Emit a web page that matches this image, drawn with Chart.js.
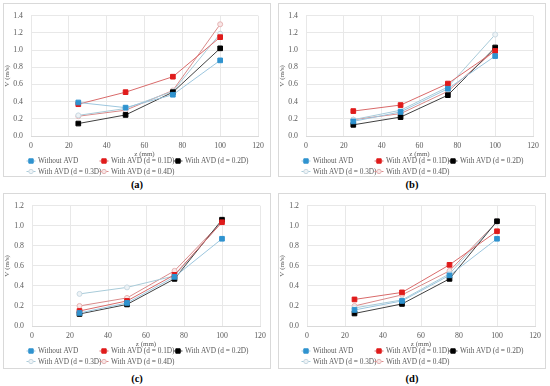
<!DOCTYPE html>
<html>
<head>
<meta charset="utf-8">
<script src="https://cdn.jsdelivr.net/npm/chart.js@4.4.1/dist/chart.umd.min.js"></script>
<style>
    body { margin: 0; width: 550px; height: 386px; background: #fff; position: relative; overflow: hidden; }
    .panel { position: absolute; border: 1px solid #d9d9d9; box-sizing: border-box; }
    .panel canvas { position: absolute; left: -1px; top: -1px; }
    .cap { position: absolute; width: 268px; text-align: center; font: bold 10.5px "Liberation Serif", serif; line-height: 12px; color: #000; }
</style>
</head>
<body>
<div class="panel" style="left:3px;top:3px;width:268px;height:174px"><canvas id="chartA" width="268" height="174"></canvas></div>
<div class="panel" style="left:278px;top:3px;width:268px;height:174px"><canvas id="chartB" width="268" height="174"></canvas></div>
<div class="panel" style="left:3px;top:193px;width:268px;height:176px"><canvas id="chartC" width="268" height="176"></canvas></div>
<div class="panel" style="left:278px;top:193px;width:268px;height:176px"><canvas id="chartD" width="268" height="176"></canvas></div>
<div class="cap" style="left:3px;top:179px">(a)</div>
<div class="cap" style="left:278px;top:179px">(b)</div>
<div class="cap" style="left:3px;top:373px">(c)</div>
<div class="cap" style="left:278px;top:373px">(d)</div>

<script>
// z positions (mm) and series names
const zPositions = [25, 50, 75, 100];
const seriesNames = ["Without AVD", "With AVD (d = 0.1D)", "With AVD (d = 0.2D)", "With AVD (d = 0.3D)", "With AVD (d = 0.4D)"];

// V (m/s) for each panel, rows in seriesNames order
const valuesA = [
    [0.39, 0.33, 0.48, 0.88],
    [0.37, 0.51, 0.69, 1.15],
    [0.145, 0.245, 0.51, 1.02],
    [0.24, 0.32, 0.52, 1.19],
    [0.23, 0.30, 0.53, 1.30]
];
const valuesB = [
    [0.17, 0.28, 0.55, 0.93],
    [0.29, 0.36, 0.61, 0.99],
    [0.13, 0.22, 0.475, 1.03],
    [0.19, 0.30, 0.57, 1.18],
    [0.19, 0.26, 0.52, 1.00]
];
const valuesC = [
    [0.13, 0.23, 0.49, 0.87],
    [0.15, 0.25, 0.51, 1.035],
    [0.12, 0.215, 0.47, 1.06],
    [0.32, 0.385, 0.50, 1.04],
    [0.20, 0.28, 0.55, 1.04]
];
const valuesD = [
    [0.16, 0.25, 0.505, 0.87],
    [0.265, 0.335, 0.61, 0.945],
    [0.125, 0.22, 0.47, 1.045],
    [0.18, 0.26, 0.52, 1.04],
    [0.20, 0.31, 0.55, 1.04]
];

// axis ranges
const xMax = 120;
const yMaxTop = 1.4;
const yMaxBottom = 1.2;

// style per series
const styles = [
    { line: "#9cc6de", point: "#2f93cf", border: "#2f93cf", shape: "rect", r: 3.3 },
    { line: "#d96a6a", point: "#e01b1b", border: "#e01b1b", shape: "rect", r: 3.3 },
    { line: "#404040", point: "#000000", border: "#000000", shape: "rect", r: 3.3 },
    { line: "#a8cbd9", point: "#eef3f6", border: "#c9d9e2", shape: "circle", r: 2.5 },
    { line: "#d98a8a", point: "#f8e6e6", border: "#e6b4b4", shape: "circle", r: 2.5 }
];

Chart.defaults.font.family = "'Liberation Serif', serif";
Chart.defaults.color = "#595959";

// legend drawn like the Excel one: fixed columns under the axis
const gridLegend = {
    id: "gridLegend",
    afterDraw(chart) {
        const ctx = chart.ctx;
        const base = chart.chartArea.bottom;
        const spots = [[28, 25], [101, 25], [175, 25], [28, 35.5], [101, 35.5]];
        ctx.save();
        ctx.font = "7.3px 'Liberation Serif'";
        ctx.textBaseline = "middle";
        seriesNames.forEach((name, i) => {
            const x = spots[i][0];
            const y = base + spots[i][1];
            const s = styles[i];
            ctx.strokeStyle = s.line;
            ctx.lineWidth = 1;
            ctx.beginPath();
            ctx.moveTo(x - 4.5, y);
            ctx.lineTo(x + 4.5, y);
            ctx.stroke();
            ctx.fillStyle = s.point;
            ctx.strokeStyle = s.border;
            ctx.beginPath();
            if (s.shape === "rect") {
                ctx.rect(x - 2.2, y - 2.2, 4.4, 4.4);
            } else {
                ctx.arc(x, y, 2.2, 0, Math.PI * 2);
            }
            ctx.fill();
            ctx.stroke();
            ctx.fillStyle = "#595959";
            ctx.fillText(name, x + 7, y + 0.5);
        });
        ctx.restore();
    }
};

function makePanel(id, values, yMax, padTop, padRight, axisW, height) {
    const axisH = 22.2;
    const datasets = values.map((row, i) => ({
        label: seriesNames[i],
        data: row.map((v, k) => ({ x: zPositions[k], y: v })),
        showLine: true,
        borderColor: styles[i].line,
        borderWidth: 1,
        backgroundColor: styles[i].point,
        pointBackgroundColor: styles[i].point,
        pointBorderColor: styles[i].border,
        pointBorderWidth: 1,
        pointStyle: styles[i].shape,
        pointRadius: styles[i].r,
        tension: 0
    }));

    new Chart(document.getElementById(id), {
        type: "scatter",
        data: { datasets: datasets },
        options: {
            responsive: false,
            animation: false,
            devicePixelRatio: 1,
            layout: {
                padding: { left: 0, top: padTop, right: padRight, bottom: height - 133 - axisH }
            },
            plugins: {
                legend: { display: false },
                tooltip: { enabled: false }
            },
            scales: {
                x: {
                    type: "linear",
                    min: 0,
                    max: xMax,
                    ticks: { stepSize: 20, padding: 5, font: { size: 7.8 } },
                    grid: { color: "#e8e8e8", drawTicks: false },
                    border: { color: "#d9d9d9" },
                    title: { display: true, text: "z (mm)", font: { size: 7 }, padding: 0 },
                    afterFit: scale => { scale.height = axisH; }
                },
                y: {
                    min: 0,
                    max: yMax,
                    ticks: { stepSize: 0.2, padding: 8, font: { size: 7.8 }, callback: v => v.toFixed(1) },
                    grid: { color: "#e8e8e8", drawTicks: false },
                    border: { display: false },
                    title: { display: true, text: "V (m/s)", font: { size: 7 }, padding: 0 },
                    afterFit: scale => { scale.width = axisW; }
                }
            }
        },
        plugins: [gridLegend]
    });
}

makePanel("chartA", valuesA, yMaxTop, 10, 13, 28, 174);
makePanel("chartB", valuesB, yMaxTop, 10, 13, 28, 174);
makePanel("chartC", valuesC, yMaxBottom, 9, 11, 29, 176);
makePanel("chartD", valuesD, yMaxBottom, 9, 11, 29, 176);
</script>
</body>
</html>
